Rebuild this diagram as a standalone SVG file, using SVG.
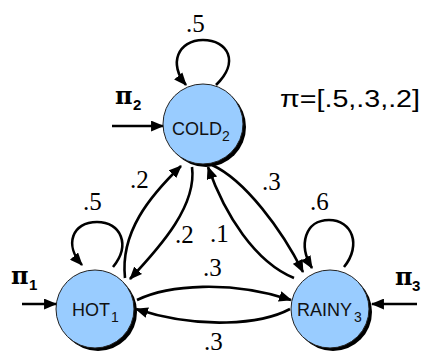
<svg xmlns="http://www.w3.org/2000/svg" width="422" height="356" viewBox="0 0 422 356">
<defs>
<marker id="ah" viewBox="0 0 12 10" refX="11" refY="5" markerWidth="13" markerHeight="11" markerUnits="userSpaceOnUse" orient="auto">
<path d="M0,0 L12,5 L0,10 z" fill="#000"/>
</marker>
</defs>
<style>
.edge{fill:none;stroke:#000;stroke-width:2.6;marker-end:url(#ah)}
.shadow{fill:#000}
.node{fill:#99ccff;stroke:#222;stroke-width:1}
.lbl{font-family:"Liberation Serif",serif;font-size:25px;fill:#000}
.nt{font-family:"Liberation Sans",Arial,sans-serif;font-size:18px;fill:#111}
.sub{font-family:"Liberation Sans",Arial,sans-serif;font-size:14px;fill:#111}
.pi{font-family:"DejaVu Serif",serif;font-size:24px;fill:#000;font-weight:bold}
.pisub{font-family:"Liberation Sans",Arial,sans-serif;font-size:15px;fill:#000;font-weight:bold}
.vec{font-family:"Liberation Sans",Arial,sans-serif;font-size:23px;fill:#000}
</style>
<g id="connectors">
<path class="edge" d="M216,85 C240,62 228,40 203,40 C178,40 168,64 186,85"/>
<path class="edge" d="M113,267 C131,245 121,222 97,222 C72,222 64,245 82,265"/>
<path class="edge" d="M344,267 C362,245 352,220 329,220 C305,220 298,245 312,268"/>
<path class="edge" d="M112,126 L163,126"/>
<path class="edge" d="M22,304 L56,304"/>
<path class="edge" d="M417,304 L372,304"/>
<path class="edge" d="M125,278 C120,232 150,196 181,166"/>
<path class="edge" d="M192,167 C197,205 162,245 130,279"/>
<path class="edge" d="M212,165 C245,180 282,230 303,272"/>
<path class="edge" d="M294,278 C255,262 225,215 208,167"/>
<path class="edge" d="M137,300 C168,285 230,280 291,300"/>
<path class="edge" d="M290,309 C262,324 200,330 136,309"/>
</g>
<g id="COLD">
<circle class="shadow" cx="206" cy="127" r="40"/>
<circle class="node" cx="203" cy="124" r="40"/>
<text class="nt" x="172" y="135">COLD</text><text class="sub" x="222" y="141">2</text>
</g>
<g id="HOT">
<circle class="shadow" cx="98" cy="312" r="39"/>
<circle class="node" cx="95" cy="309" r="39"/>
<text class="nt" x="72" y="316">HOT</text><text class="sub" x="111" y="322">1</text>
</g>
<g id="RAINY">
<circle class="shadow" cx="333" cy="312" r="39"/>
<circle class="node" cx="330" cy="309" r="39"/>
<text class="nt" x="297" y="316">RAINY</text><text class="sub" x="354" y="322">3</text>
</g>
<g id="labels">
<text class="lbl" x="186" y="32">.5</text>
<text class="lbl" x="83" y="210">.5</text>
<text class="lbl" x="310" y="210">.6</text>
<text class="lbl" x="130" y="188">.2</text>
<text class="lbl" x="175" y="243">.2</text>
<text class="lbl" x="210" y="242">.1</text>
<text class="lbl" x="262" y="190">.3</text>
<text class="lbl" x="203" y="276">.3</text>
<text class="lbl" x="204" y="350">.3</text>
<text class="pi" x="115" y="104">π</text><text class="pisub" x="133" y="110">2</text>
<text class="pi" x="11" y="284">π</text><text class="pisub" x="29" y="290">1</text>
<text class="pi" x="395" y="285">π</text><text class="pisub" x="412" y="291">3</text>
<text class="vec" x="280" y="107" textLength="140" lengthAdjust="spacingAndGlyphs">π=[.5,.3,.2]</text>
</g>
</svg>
